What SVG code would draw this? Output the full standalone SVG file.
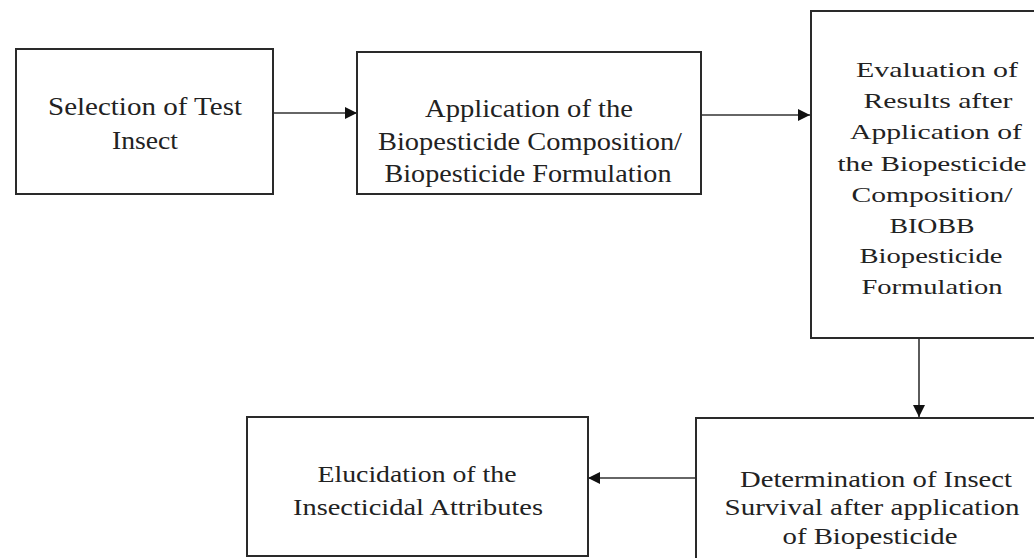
<svg xmlns="http://www.w3.org/2000/svg" width="1034" height="558" viewBox="0 0 1034 558">
<defs>
<style>
.box{fill:#fff;stroke:#2a2a2a;stroke-width:2}
.t{font-family:"Liberation Serif","Times New Roman",serif;fill:#222;text-anchor:middle}
.c{stroke:#333;stroke-width:1.6;fill:none}
</style>
<marker id="ah" viewBox="0 0 10 10" refX="10" refY="5" markerWidth="13" markerHeight="12" markerUnits="userSpaceOnUse" orient="auto">
<path d="M0,0 L10,5 L0,10 Z" fill="#111"/>
</marker>
</defs>
<rect width="1034" height="558" fill="#fff"/>
<g id="connectors">
<line class="c" x1="273" y1="113" x2="357" y2="113" marker-end="url(#ah)"/>
<line class="c" x1="701" y1="115" x2="810" y2="115" marker-end="url(#ah)"/>
<line class="c" x1="919" y1="338" x2="919" y2="417" marker-end="url(#ah)"/>
<line class="c" x1="696" y1="478" x2="588" y2="478" marker-end="url(#ah)"/>
</g>
<g id="n1">
<rect class="box" x="16" y="49" width="257" height="145"/>
<text class="t" font-size="25"><tspan x="145" y="115" textLength="194" lengthAdjust="spacingAndGlyphs">Selection of Test</tspan><tspan x="145" y="149" textLength="66" lengthAdjust="spacingAndGlyphs">Insect</tspan></text>
</g>
<g id="n2">
<rect class="box" x="357" y="52" width="344" height="142"/>
<text class="t" font-size="25"><tspan x="529" y="117" textLength="208" lengthAdjust="spacingAndGlyphs">Application of the</tspan><tspan x="530" y="150" textLength="304" lengthAdjust="spacingAndGlyphs">Biopesticide Composition/</tspan><tspan x="528" y="182" textLength="287" lengthAdjust="spacingAndGlyphs">Biopesticide Formulation</tspan></text>
</g>
<g id="n3">
<rect class="box" x="811" y="11" width="240" height="327"/>
<text class="t" font-size="22"><tspan x="937" y="77" textLength="162" lengthAdjust="spacingAndGlyphs">Evaluation of</tspan><tspan x="938" y="108" textLength="149" lengthAdjust="spacingAndGlyphs">Results after</tspan><tspan x="936" y="139" textLength="172" lengthAdjust="spacingAndGlyphs">Application of</tspan><tspan x="932" y="171" textLength="189" lengthAdjust="spacingAndGlyphs">the Biopesticide</tspan><tspan x="932" y="202" textLength="161" lengthAdjust="spacingAndGlyphs">Composition/</tspan><tspan x="932" y="233" textLength="85" lengthAdjust="spacingAndGlyphs">BIOBB</tspan><tspan x="931" y="263" textLength="143" lengthAdjust="spacingAndGlyphs">Biopesticide</tspan><tspan x="932" y="294" textLength="141" lengthAdjust="spacingAndGlyphs">Formulation</tspan></text>
</g>
<g id="n4">
<rect class="box" x="696" y="418" width="350" height="150"/>
<text class="t" font-size="24"><tspan x="876" y="487" textLength="272" lengthAdjust="spacingAndGlyphs">Determination of Insect</tspan><tspan x="872" y="515" textLength="295" lengthAdjust="spacingAndGlyphs">Survival after application</tspan><tspan x="870" y="544" textLength="175" lengthAdjust="spacingAndGlyphs">of Biopesticide</tspan></text>
</g>
<g id="n5">
<rect class="box" x="247" y="417" width="341" height="139"/>
<text class="t" font-size="24"><tspan x="417" y="482" textLength="199" lengthAdjust="spacingAndGlyphs">Elucidation of the</tspan><tspan x="418" y="515" textLength="250" lengthAdjust="spacingAndGlyphs">Insecticidal Attributes</tspan></text>
</g>
</svg>
